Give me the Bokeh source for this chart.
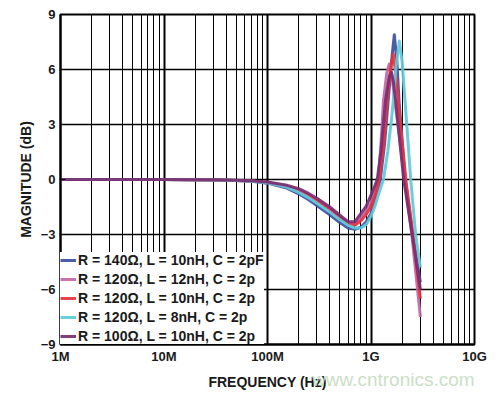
from bokeh.plotting import figure
from bokeh.layouts import column
from bokeh.models import (FixedTicker, CustomJSTickFormatter, Legend, LegendItem, Div)
from bokeh.embed import file_html
from bokeh.resources import INLINE

# ---------------- data ----------------
x_tick_values = [1e6, 1e7, 1e8, 1e9, 1e10]
x_tick_labels = ["1M", "10M", "100M", "1G", "10G"]
y_tick_values = [-9, -6, -3, 0, 3, 6, 9]
y_tick_labels = ["\u22129", "\u22126", "\u22123", "0", "3", "6", "9"]

series_names = [
    "R = 140\u03a9, L = 10nH, C = 2pF",
    "R = 120\u03a9, L = 12nH, C = 2p",
    "R = 120\u03a9, L = 10nH, C = 2p",
    "R = 120\u03a9, L = 8nH, C = 2p",
    "R = 100\u03a9, L = 10nH, C = 2p",
]
series_colors = ["#3d4f9f", "#c267a6", "#e8333d", "#5fc9d9", "#7a2c70"]

f_r140_l10 = [1e6, 1e7, 3e7, 5e7, 7e7, 1e8, 1.5e8, 2e8, 2.5e8, 3e8, 4e8, 5e8, 6e8, 7e8, 8e8, 9e8,
              1.0e9, 1.1e9, 1.23e9, 1.35e9, 1.45e9, 1.57e9, 1.68e9, 1.78e9, 1.87e9,
              2.14e9, 2.55e9, 3.0e9]
db_r140_l10 = [0, 0, -0.03, -0.06, -0.1, -0.2, -0.45, -0.78, -1.1, -1.42, -1.92, -2.35, -2.65, -2.72, -2.6, -2.3,
               -1.85, -1.0, 0, 1.9, 4.0, 6.3, 7.9, 6.4, 4.2,
               0, -3.1, -5.6]

f_r120_l12 = [1e6, 1e7, 3e7, 5e7, 7e7, 1e8, 1.5e8, 2e8, 2.5e8, 3e8, 4e8, 5e8, 6e8, 7e8, 8e8, 9e8,
              1.0e9, 1.08e9, 1.18e9, 1.25e9, 1.32e9, 1.42e9, 1.5e9, 1.6e9, 1.7e9,
              2.12e9, 2.5e9, 3.0e9]
db_r120_l12 = [0, 0, -0.03, -0.05, -0.08, -0.16, -0.36, -0.6, -0.88, -1.15, -1.65, -2.1, -2.42, -2.45, -2.1, -1.7,
               -1.3, -0.7, 0, 2.0, 4.3, 5.8, 6.3, 5.5, 4.3,
               0, -3.2, -7.5]

f_r120_l10 = [1e6, 1e7, 3e7, 5e7, 7e7, 1e8, 1.5e8, 2e8, 2.5e8, 3e8, 4e8, 5e8, 6e8, 7e8, 8e8, 9e8,
              1.0e9, 1.1e9, 1.2e9, 1.32e9, 1.43e9, 1.54e9, 1.64e9, 1.75e9, 1.85e9,
              2.17e9, 2.58e9, 3.0e9]
db_r120_l10 = [0, 0, -0.03, -0.05, -0.08, -0.16, -0.36, -0.62, -0.88, -1.15, -1.62, -2.05, -2.4, -2.5, -2.25, -1.9,
               -1.5, -0.85, 0, 1.8, 4.3, 6.0, 6.85, 5.6, 4.0,
               0, -3.3, -6.5]

f_r120_l8 = [1e6, 1e7, 3e7, 5e7, 7e7, 1e8, 1.5e8, 2e8, 2.5e8, 3e8, 4e8, 5e8, 6e8, 7e8, 8e8, 9e8,
             1.0e9, 1.1e9, 1.2e9, 1.32e9, 1.45e9, 1.6e9, 1.75e9, 1.88e9, 2.0e9,
             2.15e9, 2.42e9, 2.7e9, 3.0e9]
db_r120_l8 = [0, 0, -0.03, -0.05, -0.09, -0.18, -0.4, -0.7, -1.0, -1.3, -1.78, -2.2, -2.5, -2.65, -2.65, -2.45,
              -2.0, -1.4, -0.7, 0, 1.5, 3.6, 6.2, 7.55, 6.4,
              4.0, 0, -3.0, -4.8]

f_r100_l10 = [1e6, 1e7, 3e7, 5e7, 7e7, 1e8, 1.5e8, 2e8, 2.5e8, 3e8, 4e8, 5e8, 6e8, 7e8, 8e8, 9e8,
              1.0e9, 1.08e9, 1.15e9, 1.25e9, 1.38e9, 1.5e9, 1.58e9, 1.65e9, 1.73e9,
              2.07e9, 2.5e9, 3.0e9]
db_r100_l10 = [0, 0, -0.02, -0.04, -0.07, -0.14, -0.3, -0.5, -0.76, -1.02, -1.5, -1.95, -2.3, -2.3, -1.85, -1.45,
               -0.85, -0.4, 0, 1.6, 4.3, 5.6, 5.85, 5.3, 4.3,
               0, -3.0, -6.0]

series_f = [f_r140_l10, f_r120_l12, f_r120_l10, f_r120_l8, f_r100_l10]
series_db = [db_r140_l10, db_r120_l12, db_r120_l10, db_r120_l8, db_r100_l10]

x_title = "FREQUENCY (Hz)"
y_title = "MAGNITUDE (dB)"
watermark = "www.cntronics.com"

# ---------------- figure ----------------
FONT = "Liberation Sans"

p = figure(frame_width=414, frame_height=330, x_axis_type="log",
           x_range=(1e6, 1e10), y_range=(-9, 9),
           output_backend="svg", toolbar_location=None,
           min_border_left=60, min_border_right=24, min_border_top=14, min_border_bottom=51,
           background_fill_color="white", border_fill_color="white")
p.outline_line_color = "black"
p.outline_line_width = 2

minor = [k * 10 ** d for d in range(6, 10) for k in range(2, 10)]
p.xaxis.ticker = FixedTicker(ticks=x_tick_values, minor_ticks=minor)
p.yaxis.ticker = FixedTicker(ticks=y_tick_values)
p.xaxis.formatter = CustomJSTickFormatter(
    args=dict(vals=x_tick_values, labels=x_tick_labels),
    code="const i = vals.findIndex(v => Math.abs(Math.log10(v) - Math.log10(tick)) < 1e-6); return i >= 0 ? labels[i] : '';")
p.yaxis.formatter = CustomJSTickFormatter(
    args=dict(vals=y_tick_values, labels=y_tick_labels),
    code="const i = vals.findIndex(v => Math.abs(v - tick) < 1e-6); return i >= 0 ? labels[i] : '';")

for ax in (p.xaxis, p.yaxis):
    ax.axis_line_color = "black"
    ax.axis_line_width = 2
    ax.major_tick_line_color = "black"
    ax.major_tick_line_width = 1
    ax.major_tick_in = 5
    ax.major_tick_out = 0
    ax.major_label_text_font = FONT
    ax.major_label_text_font_style = "bold"
    ax.major_label_text_font_size = "13px"
    ax.major_label_text_color = "#1a1a1a"
    ax.axis_label_text_font = FONT
    ax.axis_label_text_font_style = "bold"
    ax.axis_label_text_font_size = "14px"
    ax.axis_label_text_color = "#1a1a1a"

p.xaxis.minor_tick_line_color = "black"
p.xaxis.minor_tick_in = 4
p.xaxis.minor_tick_out = 0
p.yaxis.minor_tick_line_color = None
p.xaxis.major_label_standoff = 4
p.yaxis.major_label_standoff = 5
p.xaxis.axis_label = x_title
p.yaxis.axis_label = y_title
p.xaxis.axis_label_standoff = 7
p.yaxis.axis_label_standoff = 4

p.xgrid.grid_line_color = "black"
p.xgrid.grid_line_width = 2
p.xgrid.minor_grid_line_color = "black"
p.xgrid.minor_grid_line_width = 1
p.ygrid.grid_line_color = "black"
p.ygrid.grid_line_width = 1.5

renderers = []
for f, db, c in zip(series_f, series_db, series_colors):
    r = p.line(f, db, line_color=c, line_width=3, line_alpha=0.92, line_join="round")
    renderers.append(r)

legend = Legend(items=[LegendItem(label=n, renderers=[r]) for n, r in zip(series_names, renderers)],
                location="bottom_left", margin=0, padding=9, spacing=3,
                glyph_width=16, glyph_height=12, label_height=12, label_standoff=2,
                label_text_font=FONT, label_text_font_style="bold",
                label_text_font_size="14px", label_text_color="#1a1a1a",
                background_fill_color="white", background_fill_alpha=1.0,
                border_line_color=None)
legend.level = "underlay"
p.add_layout(legend)

wm = Div(text=watermark, width=180, height=24, margin=(-27, 0, 0, 312),
         styles={"color": "#c6dcc0", "font-family": FONT, "font-size": "19px",
                 "line-height": "24px", "white-space": "nowrap", "opacity": "0.9"})

page = column(p, wm, spacing=0)

open("out.html", "w").write(file_html(page, INLINE))
